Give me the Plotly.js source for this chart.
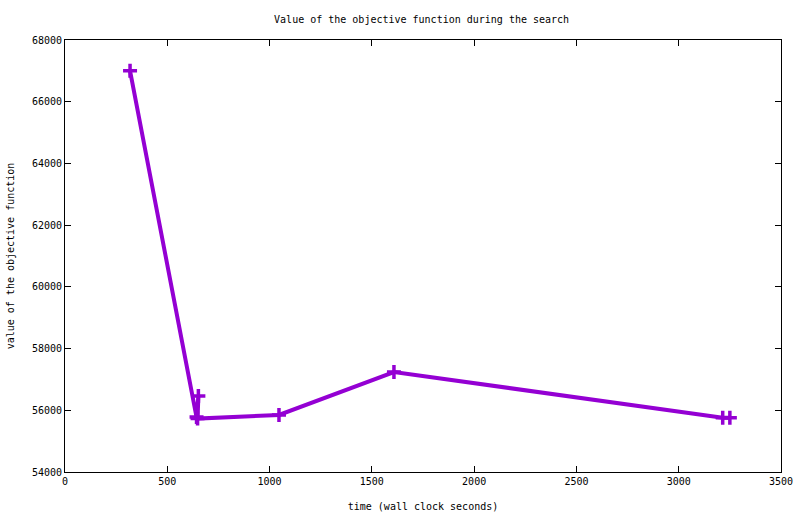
<!DOCTYPE html>
<html>
<head>
<meta charset="utf-8">
<script src="https://cdn.plot.ly/plotly-3.0.1.min.js"></script>
<style>body{margin:0;padding:0;background:#fff;} #chart{width:800px;height:514px;}</style>
</head>
<body>
<div id="chart"></div>
<script>
var timeSeconds = [318, 643, 652, 648, 1046, 1608, 3215, 3250];
var objectiveValues = [67000, 55780, 56460, 55730, 55850, 57240, 55760, 55760];
var xTicks = [0, 500, 1000, 1500, 2000, 2500, 3000, 3500];
var yTicks = [54000, 56000, 58000, 60000, 62000, 64000, 66000, 68000];

var font = {family: 'DejaVu Sans Mono, monospace', size: 10, color: '#000'};

var trace = {
  x: timeSeconds,
  y: objectiveValues,
  mode: 'lines+markers',
  type: 'scatter',
  line: {color: '#9400D3', width: 4},
  marker: {symbol: 'cross-thin', size: 10, color: '#9400D3', line: {color: '#9400D3', width: 3.5}},
  showlegend: false,
  cliponaxis: false
};

var axisCommon = {
  showline: true, linecolor: '#000', linewidth: 1, mirror: 'ticks',
  ticks: 'inside', ticklen: 6, tickcolor: '#000', tickwidth: 1,
  showgrid: false, zeroline: false, tickfont: font, tickformat: 'd', fixedrange: true
};

var layout = {
  width: 800, height: 514,
  margin: {l: 65, r: 19, t: 40, b: 42},
  paper_bgcolor: '#fff', plot_bgcolor: '#fff',
  font: font,
  title: {text: 'Value of the objective function during the search', font: font, x: 0.527, xanchor: 'center', y: 0.963, yanchor: 'middle'},
  xaxis: Object.assign({}, axisCommon, {
    range: [0, 3500], tickvals: xTicks, ticktext: xTicks.map(String),
    title: {text: 'time (wall clock seconds)', font: font, standoff: 16}
  }),
  yaxis: Object.assign({}, axisCommon, {
    range: [54000, 68000], tickvals: yTicks, ticktext: yTicks.map(String),
    title: {text: 'value of the objective function', font: font, standoff: 15}
  })
};

Plotly.newPlot('chart', [trace], layout, {displayModeBar: false, staticPlot: true});
</script>
</body>
</html>
